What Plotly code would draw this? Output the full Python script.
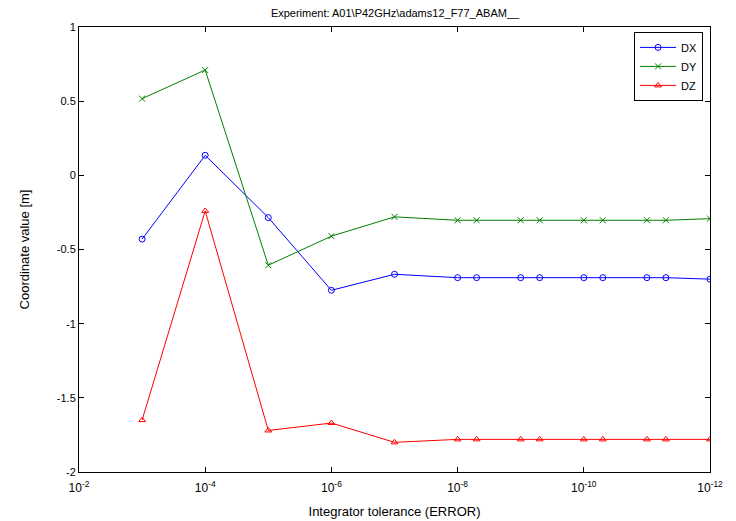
import plotly.graph_objects as go

# Data
tolerance = [1e-3, 1e-4, 1e-5, 1e-6, 1e-7, 1e-8, 5e-9, 1e-9, 5e-10, 1e-10, 5e-11, 1e-11, 5e-12, 1e-12]
dx = [-0.43, 0.135, -0.285, -0.775, -0.667, -0.69, -0.69, -0.69, -0.69, -0.69, -0.69, -0.69, -0.69, -0.70]
dy = [0.517, 0.71, -0.606, -0.41, -0.28, -0.303, -0.303, -0.303, -0.303, -0.303, -0.303, -0.303, -0.303, -0.292]
dz = [-1.65, -0.24, -1.72, -1.67, -1.80, -1.78, -1.78, -1.78, -1.78, -1.78, -1.78, -1.78, -1.78, -1.78]

x_tickvals = [1e-2, 1e-4, 1e-6, 1e-8, 1e-10, 1e-12]
x_ticktext = ["10<sup>-2</sup>", "10<sup>-4</sup>", "10<sup>-6</sup>", "10<sup>-8</sup>",
              "10<sup>-10</sup>", "10<sup>-12</sup>"]
y_tickvals = [1, 0.5, 0, -0.5, -1, -1.5, -2]
y_ticktext = ["1", "0.5", "0", "-0.5", "-1", "-1.5", "-2"]

title_text = "Experiment: A01\\P42GHz\\adams12_F77_ABAM__"

FONT = "Liberation Sans, Arial, sans-serif"
W, H = 736, 521

fig = go.Figure()
series = [
    ("DX", dx, "#0000FF", "circle-open"),
    ("DY", dy, "#008000", "x-thin-open"),
    ("DZ", dz, "#FF0000", "triangle-up-open"),
]
for name, vals, col, sym in series:
    fig.add_trace(go.Scatter(
        x=tolerance, y=vals, name=name, mode="lines+markers",
        line=dict(color=col, width=1),
        marker=dict(symbol=sym, size=6, color=col, line=dict(color=col, width=1)),
    ))

fig.update_layout(
    width=W, height=H,
    margin=dict(l=71, r=34, t=19, b=57),
    paper_bgcolor="white", plot_bgcolor="white",
    font=dict(family=FONT, size=11, color="black"),
    title=dict(text=title_text, x=387 / W, xanchor="center",
               y=1 - 5 / H, yanchor="middle", font=dict(size=11)),
    showlegend=True,
    legend=dict(x=0.989, y=0.989, xanchor="right", yanchor="top",
                bordercolor="black", borderwidth=1, bgcolor="white",
                font=dict(size=11), tracegroupgap=0, itemwidth=36),
)
fig.update_xaxes(
    type="log", range=[-2, -12],
    tickvals=x_tickvals, ticktext=x_ticktext, tickfont=dict(size=12),
    ticklabelstandoff=5,
    showline=True, linecolor="black", linewidth=1, mirror="ticks",
    ticks="inside", ticklen=5, tickcolor="black", showgrid=False, zeroline=False,
    title=dict(text="Integrator tolerance (ERROR)", standoff=12),
)
fig.update_yaxes(
    range=[-2, 1], tickvals=y_tickvals, ticktext=y_ticktext,
    showline=True, linecolor="black", linewidth=1, mirror="ticks",
    ticks="inside", ticklen=5, tickcolor="black", showgrid=False, zeroline=False,
    title=dict(text="Coordinate value [m]", standoff=24),
)

fig.write_html("out.html")
